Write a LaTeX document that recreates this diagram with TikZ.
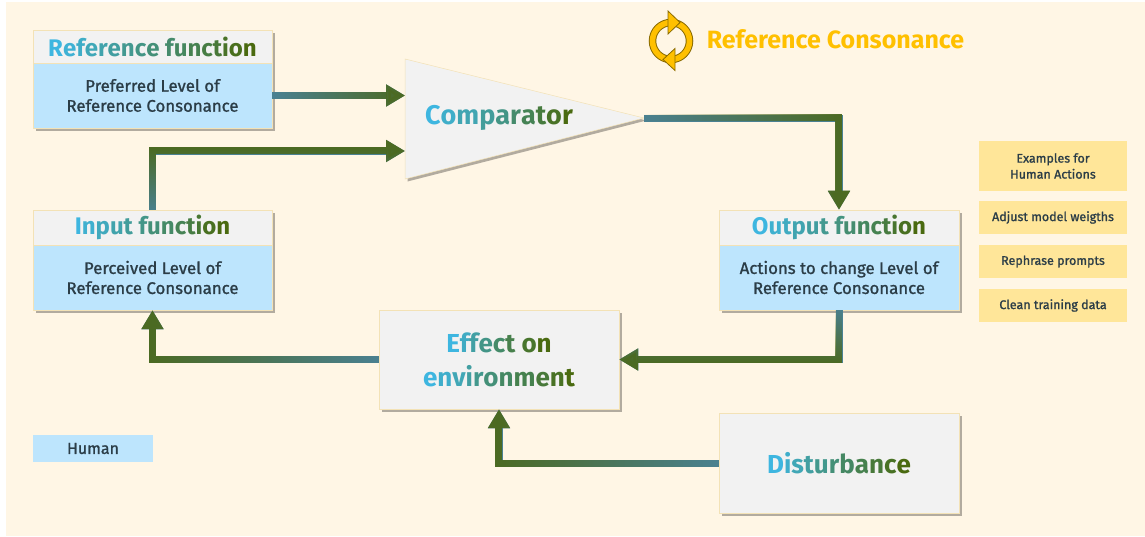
\documentclass[tikz,border=0pt]{standalone}
\usepackage{fontspec}
\setmainfont{Fira Sans}
\newfontfamily\medfont{Fira Sans}[FakeBold=1.2]
\usetikzlibrary{arrows.meta,shadows,fadings,calc}
\definecolor{bgc}{HTML}{FFF6E5}
\definecolor{hdrc}{HTML}{F2F2F2}
\definecolor{bodyc}{HTML}{BDE5FD}
\definecolor{yelc}{HTML}{FFE699}
\definecolor{bordc}{HTML}{F3E2B6}
\definecolor{txtc}{HTML}{2B3D47}
\definecolor{gtB}{HTML}{3EB6E0}
\definecolor{gtE}{HTML}{4A6A10}
\definecolor{connT}{HTML}{4A8192}
\definecolor{connO}{HTML}{4C6A22}
\definecolor{goldc}{HTML}{FFC000}
\definecolor{golddk}{HTML}{8A6B00}

\tikzfading[name=fadeLR, left color=transparent!100, right color=transparent!0]
\tikzfading[name=fadeRL, left color=transparent!0, right color=transparent!100]
\tikzfading[name=fadeTB, top color=transparent!100, bottom color=transparent!0]
\tikzfading[name=fadeBT, top color=transparent!0, bottom color=transparent!100]

\ExplSyntaxOn
\int_new:N \l_gt_total_int
\int_new:N \l_gt_idx_int
\seq_new:N \l_gt_words_seq
\NewDocumentCommand \gradtext { m }
  {
    \group_begin:
    \seq_set_split:Nnn \l_gt_words_seq { ~ } { #1 }
    \int_zero:N \l_gt_total_int
    \seq_map_inline:Nn \l_gt_words_seq
      { \int_add:Nn \l_gt_total_int { \tl_count:n { ##1 } } }
    \int_zero:N \l_gt_idx_int
    \seq_map_indexed_inline:Nn \l_gt_words_seq
      {
        \int_compare:nNnT { ##1 } > { 1 } { ~ }
        \tl_map_inline:nn { ##2 }
          {
            \color { gtB ! \fp_eval:n { round( 100 * (1 - \l_gt_idx_int / max(\l_gt_total_int - 1, 1)), 0) } ! gtE }
            ####1
            \int_incr:N \l_gt_idx_int
          }
      }
    \group_end:
  }
\ExplSyntaxOff

\tikzset{
  shad/.style={drop shadow={shadow xshift=2.5pt, shadow yshift=-2.5pt, fill=black, opacity=0.3}},
  hdr/.style={draw=bordc, line width=0.5pt, fill=hdrc, minimum width=239pt, inner sep=0pt,
    font=\bfseries\fontsize{24}{28}\selectfont, shad},
  bodyb/.style={draw=bordc, line width=0.5pt, fill=bodyc, minimum width=239pt, minimum height=65pt,
    inner sep=0pt, align=center, text=txtc, font=\medfont\fontsize{16.8}{20}\selectfont, shad},
  bigbox/.style={draw=bordc, line width=0.5pt, fill=hdrc, minimum width=240pt, inner sep=0pt,
    align=center, font=\bfseries\fontsize{26}{34}\selectfont, shad},
  yel/.style={fill=yelc, minimum width=148pt, inner sep=0pt, align=center, text=txtc,
    font=\medfont\fontsize{12.5}{16}\selectfont},
  conn/.style={line width=7pt, -{Triangle[length=19pt,width=21pt]}},
}

\begin{document}
\begin{tikzpicture}[x=1pt,y=-1pt]
\fill[white] (0,0) rectangle (1145,536);
\fill[bgc] (6,2) rectangle (1145,536);
\useasboundingbox (0,0) rectangle (1145,536);

% Reference function
\node[hdr, minimum height=33pt] (reft) at (152.5,46.5) {\gradtext{Reference function}};
\node[bodyb] (refb) at (152.5,95.5) {Preferred Level of\\Reference Consonance};

% Input function
\node[hdr, minimum height=35pt] (inh) at (152.5,227.5) {\gradtext{Input function}};
\node[bodyb] (inb) at (152.5,277.5) {Perceived Level of\\Reference Consonance};

% Output function
\node[hdr, minimum height=35pt, minimum width=240pt] (outh) at (839,227.5) {\gradtext{Output function}};
\node[bodyb, minimum width=240pt] (outb) at (839,277.5) {Actions to change Level of\\Reference Consonance};

% Effect and Disturbance
\node[bigbox, minimum height=99pt] (eff) at (499,359.5) {\gradtext{Effect on}\\\gradtext{environment}};
\node[bigbox, minimum height=100pt] (dist) at (839,463) {\gradtext{Disturbance}};

% Comparator
\coordinate (cA) at (405,59);
\coordinate (cB) at (405,179);
\coordinate (comptip) at (644,118);
\coordinate (compin1) at (405,95.5);
\coordinate (compin2) at (405,151);
\filldraw[fill=hdrc, draw=bordc, line width=0.5pt, shad] (cA) -- (comptip) -- (cB) -- cycle;
\node[font=\bfseries\fontsize{27}{30}\selectfont] (comp) at (499,118) {\gradtext{Comparator}};

% Human
\node[fill=bodyc, minimum width=120pt, minimum height=27pt, inner sep=0pt, text=txtc,
  font=\medfont\fontsize{16}{18}\selectfont] (hum) at (93,448.5) {Human};

% Examples
\node[yel, minimum height=50pt] (ex) at (1053,166) {Examples for\\Human Actions};
\node[yel, minimum height=33pt] (ya) at (1053,217.5) {Adjust model weigths};
\node[yel, minimum height=33pt] (yb) at (1053,261.5) {Rephrase prompts};
\node[yel, minimum height=33pt] (yc) at (1053,305.5) {Clean training data};

% Title with icon
\draw[golddk, line width=7.5pt] (671,41) circle[radius=18.5];
\draw[goldc, line width=5.5pt] (671,41) circle[radius=18.5];
\filldraw[fill=goldc, draw=golddk, line width=0.8pt] (668,11) -- (680,22.5) -- (668,34) -- cycle;
\filldraw[fill=goldc, draw=golddk, line width=0.8pt] (675,48.5) -- (663,59.5) -- (675,70.5) -- cycle;
\node[text=goldc, font=\bfseries\fontsize{25}{30}\selectfont] (rc) at (835.5,39) {Reference Consonance};

% Connectors
\draw[conn, connT] (refb.east) -- (compin1);
\draw[conn, connO, path fading=fadeLR, fit fading=false,
  fading transform={shift={(338.5,95.5)}, xscale=2.6}] (refb.east) -- (compin1);

\draw[conn, connT] (inh.north) |- (compin2);
\draw[conn, connO, path fading=fadeBT] (inh.north) |- (compin2);

\draw[conn, connT] (comptip) -| (outh.north);
\draw[conn, connO, path fading=fadeLR] (comptip) -| (outh.north);

\draw[conn, connT] (outb.south) |- (eff.east);
\draw[conn, connO, path fading=fadeTB] (outb.south) |- (eff.east);

\draw[conn, connT] (eff.west) -| (inb.south);
\draw[conn, connO, path fading=fadeRL] (eff.west) -| (inb.south);

\draw[conn, connT] (dist.west) -| (eff.south);
\draw[conn, connO, path fading=fadeRL] (dist.west) -| (eff.south);
\end{tikzpicture}
\end{document}
